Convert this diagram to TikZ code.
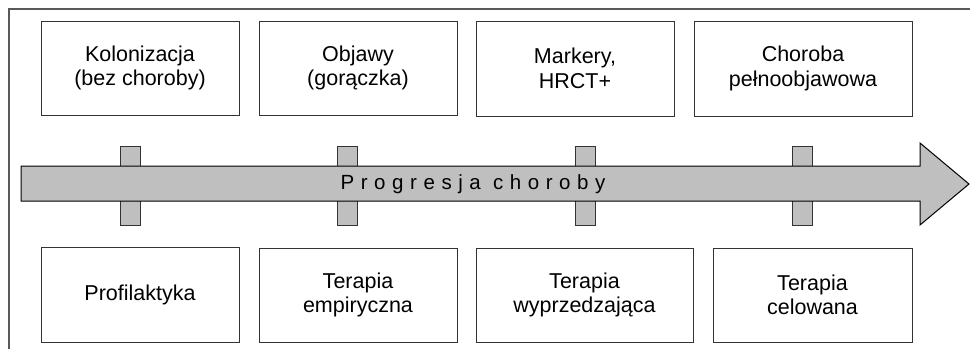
\documentclass[tikz,border=0pt]{standalone}
\usepackage{fontspec}
\setmainfont{Liberation Sans}
\newfontfamily\progfont[LetterSpace=32]{Liberation Sans}
\begin{document}
\begin{tikzpicture}[x=1pt,y=-1pt,
  infobox/.style={draw=black!80, line width=1pt, fill=white, inner sep=0pt, align=center,
    font=\fontsize{21.5}{24.5}\selectfont},
  barpost/.style={draw=black!80, line width=1pt, fill=black!25, inner sep=0pt,
    minimum width=20pt, minimum height=79pt},
  framestyle/.style={draw=black!65, line width=1.2pt},
  arrowbody/.style={draw=black, line width=1pt, fill=black!25}
]
\useasboundingbox (0,0) rectangle (970,349);
% frame
\draw[framestyle] (9,349) -- (9,9) -- (970,9);
% posts behind the arrow
\node[barpost] (p1) at (130.5,185.5) {};
\node[barpost] (p2) at (347,185.5) {};
\node[barpost] (p3) at (585.3,185.5) {};
\node[barpost] (p4) at (802.7,185.5) {};
% arrow
\draw[arrowbody] (21,166) -- (920,166) -- (920,143) -- (969,184) -- (920,225) -- (920,201) -- (21,201) -- cycle;
\node[font=\progfont\fontsize{20.5}{23}\selectfont, inner sep=0pt, anchor=base] (prog) at (473,189.5) {Progresja choroby};
% top boxes
\node[infobox, minimum width=198pt, minimum height=94pt] (t1) at (140,68) {Kolonizacja\\(bez choroby)};
\node[infobox, minimum width=198pt, minimum height=94pt] (t2) at (358,68) {Objawy\\(gorączka)};
\node[infobox, minimum width=198pt, minimum height=95pt] (t3) at (575,68.5) {Markery,\\HRCT+};
\node[infobox, minimum width=218pt, minimum height=95pt] (t4) at (803,68.5) {Choroba\\pełnoobjawowa};
% bottom boxes
\node[infobox, minimum width=198pt, minimum height=95pt] (b1) at (140,294.5) {Profilaktyka};
\node[infobox, minimum width=198pt, minimum height=94pt] (b2) at (358,295) {Terapia\\empiryczna};
\node[infobox, minimum width=217pt, minimum height=94pt] (b3) at (584.5,295) {Terapia\\wyprzedzająca};
\node[infobox, minimum width=199pt, minimum height=94pt] (b4) at (812.5,295) {Terapia\\celowana};
\end{tikzpicture}
\end{document}
